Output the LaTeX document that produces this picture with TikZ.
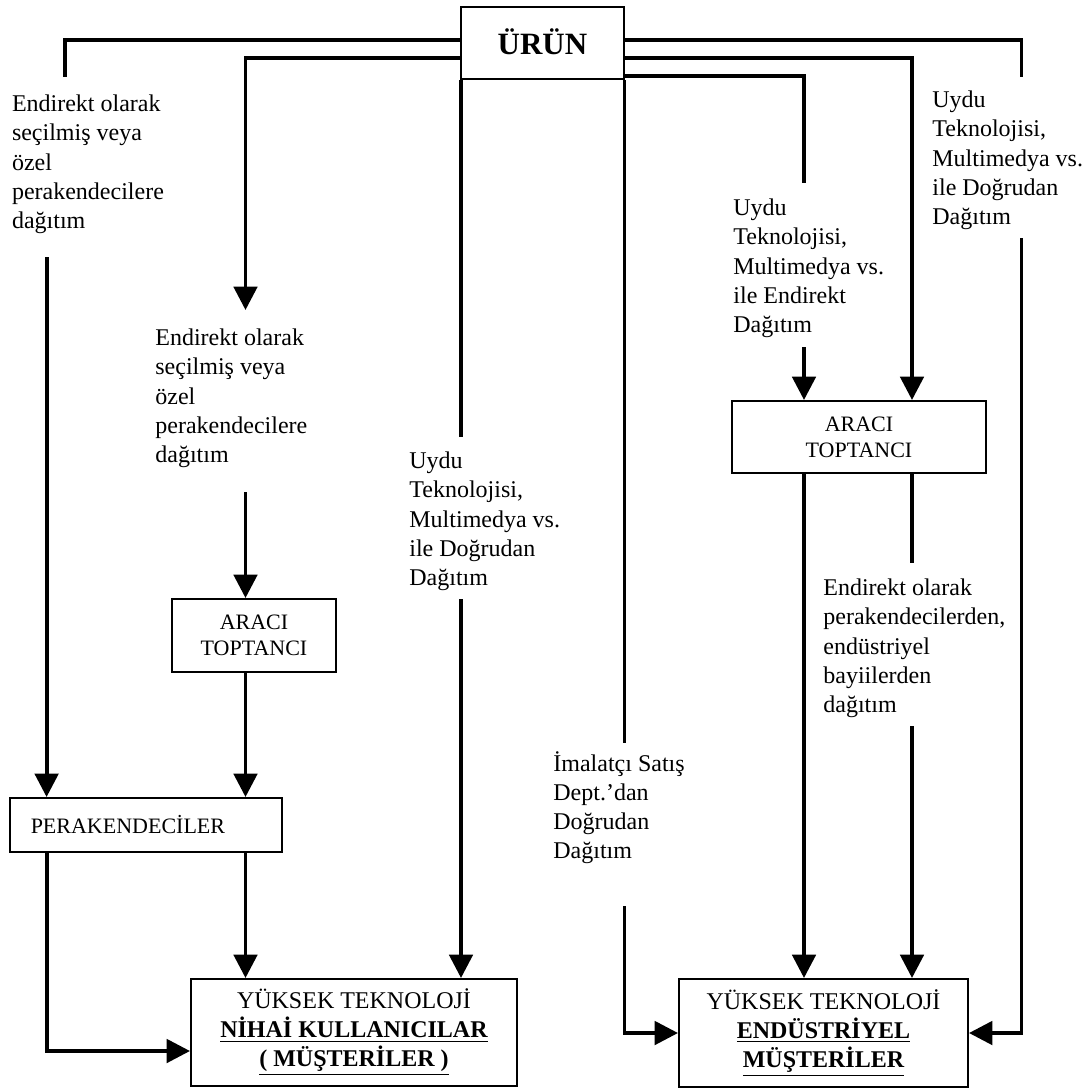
\documentclass[tikz,border=0pt]{standalone}
\usepackage{fontspec}
\setmainfont{Liberation Serif}
\usepackage{tikz}
\usetikzlibrary{arrows.meta,positioning}
\tikzset{kutu/.style={draw,line width=1pt,inner sep=0pt,align=center,font=\fontsize{11}{13}\selectfont},
	hat/.style={line width=1.9pt},
	ok/.style={hat,-{Triangle[length=11.7pt,width=11.7pt]}}}

\begin{document}
\begin{tikzpicture}[x=0.5pt,y=-0.5pt]
	\tikzstyle{etiket}=[inner sep=0pt,anchor=north west,align=left,
	font=\fontsize{12}{14.6}\selectfont]
	\useasboundingbox (0,0) rectangle (1092,1088);
	
	\node[kutu,line width=1.3pt,minimum width=81.5pt,minimum height=36pt,
	font=\fontsize{15.5}{18}\selectfont\bfseries] (urun) at (542.5,43) {\raisebox{1.5pt}{ÜRÜN}};
	\node[kutu,minimum width=81.75pt,minimum height=36.5pt] (aracL) at (254,635.5) {ARACI\\TOPTANCI};
	\node[kutu,minimum width=126.75pt,minimum height=36pt] (aracR) at (859,437) {ARACI\\TOPTANCI};
	\node[kutu,minimum height=27pt,text width=115.25pt,inner xsep=10.25pt,align=left] (perak) at (146,825) {PERAKENDECİLER};
	\node[kutu,minimum width=163pt,minimum height=53.5pt,font=\fontsize{12}{14.5}\selectfont] (nihai) at (354,1032.5)
	{YÜKSEK TEKNOLOJİ\\\textbf{\underline{NİHAİ KULLANICILAR}}\\\textbf{\underline{( MÜŞTERİLER )}}};
	\node[kutu,minimum width=144.5pt,minimum height=54pt,font=\fontsize{12}{14.5}\selectfont] (endus) at (823.5,1033)
	{YÜKSEK TEKNOLOJİ\\\textbf{\underline{ENDÜSTRİYEL}}\\\textbf{\underline{MÜŞTERİLER}}};
	
	% etiketler
	\node[etiket] (e1) at (11.6,94.6) {Endirekt olarak\\seçilmiş veya\\özel\\perakendecilere\\dağıtım};
	\node[etiket] (e2) at (155,328.6) {Endirekt olarak\\seçilmiş veya\\özel\\perakendecilere\\dağıtım};
	\node[etiket] (u1) at (409,451.6) {Uydu\\Teknolojisi,\\Multimedya vs.\\ile Doğrudan\\Dağıtım};
	\node[etiket] (u2) at (733,198.6) {Uydu\\Teknolojisi,\\Multimedya vs.\\ile Endirekt\\Dağıtım};
	\node[etiket] (u3) at (932,90.6) {Uydu\\Teknolojisi,\\Multimedya vs.\\ile Doğrudan\\Dağıtım};
	\node[etiket] (e3) at (823,578.6) {Endirekt olarak\\perakendecilerden,\\endüstriyel\\bayiilerden\\dağıtım};
	\node[etiket] (im) at (553,751) {İmalatçı Satış\\Dept.’dan\\Doğrudan\\Dağıtım};
	
	\coordinate (a1) at (65,77);
	\coordinate (a2) at (46.6,257);
	\coordinate (a3) at (245.5,310);
	\coordinate (a4) at (245.5,492);
	\coordinate (a5) at (461,437);
	\coordinate (a6) at (461,599);
	\coordinate (b1) at (1021.5,77);
	\coordinate (b2) at (1021.5,238);
	\coordinate (b3) at (804,183);
	\coordinate (b4) at (804,347);
	\coordinate (b5) at (912,563);
	\coordinate (b6) at (912,726);
	\coordinate (b7) at (624.5,743);
	\coordinate (b8) at (624.5,906);
	
	% sol taraf
	\draw[hat] (urun.west |- 0,40) -| (a1);
	\draw[ok] (a2) -- (a2 |- perak.north);
	\draw[ok] (urun.west |- 0,58) -| (a3);
	\draw[ok] (a4) -- (a4 |- aracL.north);
	\draw[ok] (a4 |- aracL.south) -- (a4 |- perak.north);
	\draw[ok] (a4 |- perak.south) -- (a4 |- nihai.north);
	\draw[ok] (a2 |- perak.south) |- (nihai.west |- 0,1051);
	\draw[hat] (a5 |- urun.south) -- (a5);
	\draw[ok] (a6) -- (a6 |- nihai.north);
	
	% sag taraf
	\draw[hat] (urun.east |- 0,40) -| (b1);
	\draw[ok] (b2) |- (endus.east);
	\draw[ok] (urun.east |- 0,58) -| (b5 |- aracR.north);
	\draw[hat] (urun.east |- 0,76) -| (b3);
	\draw[ok] (b4) -- (b4 |- aracR.north);
	\draw[ok] (b4 |- aracR.south) -- (b4 |- endus.north);
	\draw[hat] (b5 |- aracR.south) -- (b5);
	\draw[ok] (b6) -- (b6 |- endus.north);
	\draw[hat] (b7 |- urun.south) -- (b7);
	\draw[ok] (b8) |- (endus.west);
\end{tikzpicture}
\end{document}
